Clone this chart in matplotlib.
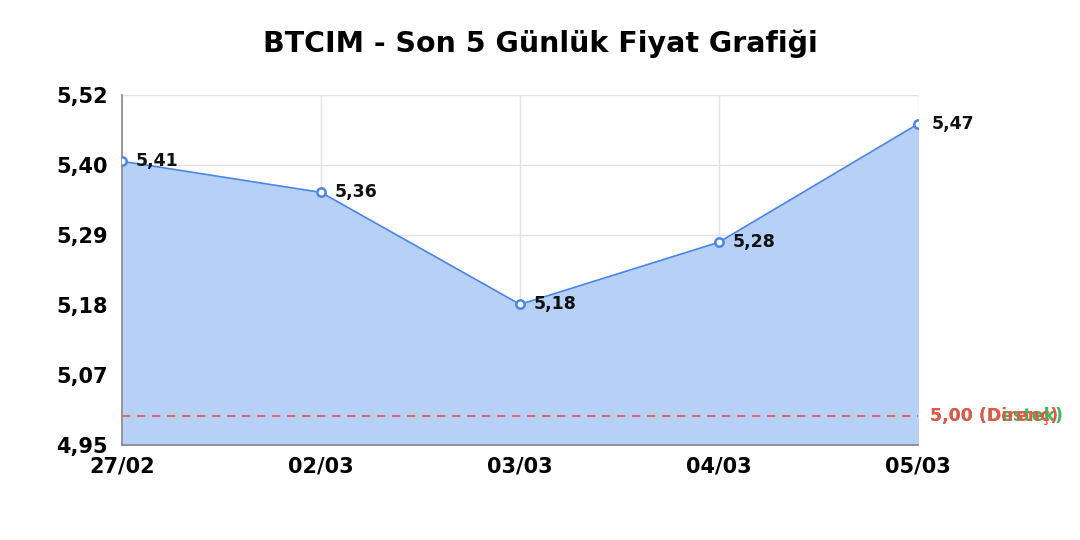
import numpy as np
import matplotlib.pyplot as plt
from matplotlib.ticker import FuncFormatter

# veri
dates = ['27/02', '02/03', '03/03', '04/03', '05/03']
prices = [5.41, 5.36, 5.18, 5.28, 5.47]
support = 5.00
resistance = 5.00
y_min, y_max = 4.954, 5.5165

fig = plt.figure(figsize=(10.8, 5.4), dpi=100)
ax = fig.add_axes([0.113, 0.176, 0.737, 0.648])

x = np.arange(len(dates))
ax.fill_between(x, prices, y_min, color='#b7d0f8', zorder=1)
ax.plot(x, prices, color='#4a86e8', lw=1.2, zorder=3,
        marker='o', ms=6, mfc='white', mec='#4a86e8', mew=1.8)

for xi, p in zip(x, prices):
    ax.annotate(f'{p:.2f}'.replace('.', ','), (xi, p), xytext=(10, 0),
                textcoords='offset points', va='center', ha='left',
                fontsize=12.5, fontweight='bold', color='#111111', zorder=5)

# destek / direnc
ax.axhline(support, color='#e8534a', ls=(0, (5, 4)), lw=1.2, zorder=2)
ax.text(1.015, support, f'{support:.2f} (Destek)'.replace('.', ','),
        transform=ax.get_yaxis_transform(), va='center', ha='left',
        fontsize=12.5, fontweight='bold', color='#2ebd59', clip_on=False)
ax.text(1.015, resistance, f'{resistance:.2f} (Direnç)'.replace('.', ','),
        transform=ax.get_yaxis_transform(), va='center', ha='left',
        fontsize=12.5, fontweight='bold', color='#e8534a', clip_on=False)

ax.set_xlim(0, len(dates) - 1)
ax.set_ylim(y_min, y_max)
ax.set_yticks(np.linspace(y_min, y_max, 6))
ax.yaxis.set_major_formatter(FuncFormatter(lambda v, pos: f'{v:.2f}'.replace('.', ',')))
ax.set_xticks(x)
ax.set_xticklabels(dates)
for lbl in ax.get_xticklabels() + ax.get_yticklabels():
    lbl.set_fontweight('bold')
    lbl.set_fontsize(15)
ax.tick_params(axis='y', length=0, pad=10)
ax.tick_params(axis='x', length=0, pad=8)

ax.grid(True, color='#e3e3e3', lw=1)
ax.set_axisbelow(True)
for s in ['top', 'right']:
    ax.spines[s].set_visible(False)
for s in ['left', 'bottom']:
    ax.spines[s].set_color('#888888')
    ax.spines[s].set_linewidth(1.2)

fig.suptitle('BTCIM - Son 5 Günlük Fiyat Grafiği', fontsize=20.5, fontweight='bold', y=0.945)
fig.savefig('out.png', dpi=100)
